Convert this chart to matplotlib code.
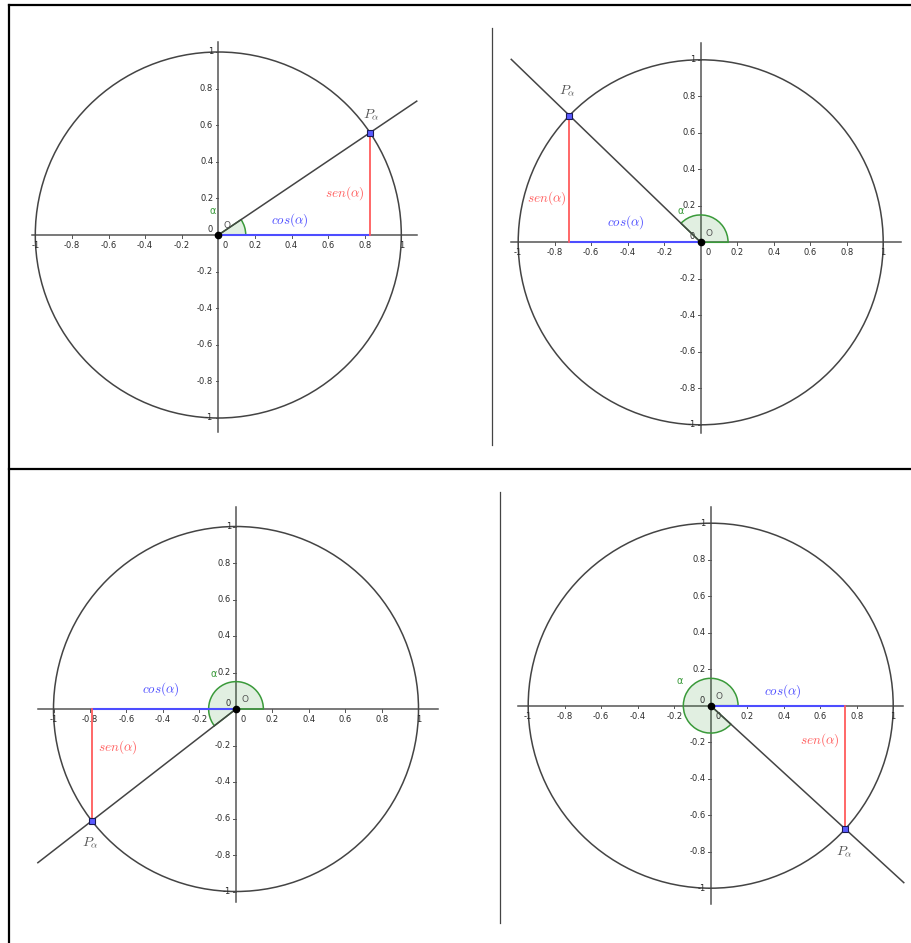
import numpy as np
import matplotlib
matplotlib.use("Agg")
import matplotlib.pyplot as plt
from matplotlib.patches import Wedge, Circle

plt.rcParams['mathtext.fontset'] = 'cm'

# angle alpha of each panel (degrees), top-left, top-right, bottom-left, bottom-right
alpha_deg = [34.0, 136.0, 217.8, 317.5]
tick_vals = [-1, -0.8, -0.6, -0.4, -0.2, 0.2, 0.4, 0.6, 0.8, 1]
tick_text = ["-1", "-0.8", "-0.6", "-0.4", "-0.2", "0.2", "0.4", "0.6", "0.8", "1"]

# layout (pixels): origin of each unit circle, radius, panel region
origins = [(218.3, 235.0), (700.7, 242.3), (236.0, 709.0), (710.7, 705.7)]
radius_px = [183.0, 182.5, 182.5, 182.5]
regions = [(12, 455, 8, 466), (460, 910, 8, 466), (12, 455, 472, 943), (505, 910, 472, 943)]
xaxis_ext = [(-1.018, 1.086), (-1.041, 1.10), (-1.085, 1.107), (-1.054, 1.055)]
yaxis_ext = [(-1.077, 1.055), (-1.045, 1.094), (-1.056, 1.108), (-1.088, 1.09)]
ray_len = [1.308, 1.443, 1.374, 1.435]
lbl_P = [(0.835, 0.66), (-0.73, 0.83), (-0.80, -0.73), (0.734, -0.80)]
lbl_sen = [(0.69, 0.23), (-0.845, 0.244), (-0.65, -0.21), (0.60, -0.19)]
lbl_cos = [(0.39, 0.08), (-0.41, 0.11), (-0.41, 0.11), (0.395, 0.08)]
lbl_alpha = [(-0.03, 0.13), (-0.11, 0.17), (-0.12, 0.19), (-0.17, 0.135)]

W, H = 912, 943
fig = plt.figure(figsize=(W / 100, H / 100), dpi=100)

# table borders and separators
bg = fig.add_axes([0, 0, 1, 1])
bg.set_xlim(0, W)
bg.set_ylim(H, 0)
bg.axis('off')
bg.plot([9, 9], [5, H], color='black', lw=1.6)
bg.plot([9, W], [5, 5], color='black', lw=1.6)
bg.plot([9, W], [469, 469], color='black', lw=1.6)
bg.plot([492, 492], [28, 445], color='#444444', lw=0.9)
bg.plot([500.5, 500.5], [492, 923], color='#444444', lw=0.9)

blue = '#4d4dff'
red = '#ff5c5c'
green = '#3a9a3a'
gray = '#444444'

for i in range(4):
    ox, oy = origins[i]
    r = radius_px[i]
    x0, x1, y0, y1 = regions[i]
    ax = fig.add_axes([x0 / W, 1 - y1 / H, (x1 - x0) / W, (y1 - y0) / H])
    ax.set_xlim((x0 - ox) / r, (x1 - ox) / r)
    ax.set_ylim((oy - y1) / r, (oy - y0) / r)
    ax.axis('off')

    a = np.deg2rad(alpha_deg[i])
    c, s = np.cos(a), np.sin(a)

    # axes
    ax.plot(xaxis_ext[i], [0, 0], color='#555555', lw=1.1, zorder=1)
    ax.plot([0, 0], yaxis_ext[i], color='#555555', lw=1.1, zorder=1)
    for v, t in zip(tick_vals, tick_text):
        ax.plot([v, v], [0, -0.015], color='#555555', lw=0.7)
        ax.text(v, -0.057, t, fontsize=6, color='#2a2a2a', ha='center', va='center')
        ax.plot([0, -0.015], [v, v], color='#555555', lw=0.7)
        ax.text(-0.028, v, t, fontsize=6, color='#2a2a2a', ha='right', va='center')
    ax.text(0.04, -0.057, "0", fontsize=6, color='#2a2a2a', ha='center', va='center')
    ax.text(-0.045, 0.03, "0", fontsize=6, color='#2a2a2a', ha='center', va='center')

    # unit circle
    ax.add_patch(Circle((0, 0), 1, fill=False, edgecolor=gray, lw=1.1, zorder=2))

    # angle wedge
    ax.add_patch(Wedge((0, 0), 0.15, 0, alpha_deg[i], facecolor=green, alpha=0.15,
                       edgecolor='none', zorder=2))
    ax.add_patch(Wedge((0, 0), 0.15, 0, alpha_deg[i], fill=False, edgecolor=green,
                       lw=1.1, zorder=3))

    # terminal ray
    L = ray_len[i]
    ax.plot([0, L * c], [0, L * s], color=gray, lw=1.1, zorder=3)

    # cos and sin segments
    ax.plot([0, c], [0, 0], color=blue, lw=1.5, zorder=4)
    ax.plot([c, c], [0, s], color=red, lw=1.3, zorder=4)

    # points
    ax.plot([c], [s], marker='s', ms=4, mfc='#5a5aff', mec='#1a1a55', mew=0.8, zorder=6)
    ax.plot([0], [0], marker='o', ms=4.5, color='black', zorder=6)

    # labels
    ax.text(*lbl_P[i], r'$P_\alpha$', fontsize=10, color='#555555', ha='center', va='center')
    ax.text(*lbl_sen[i], r'$sen(\alpha)$', fontsize=9.5, color=red, ha='center', va='center')
    ax.text(*lbl_cos[i], r'$cos(\alpha)$', fontsize=9.5, color=blue, ha='center', va='center')
    ax.text(*lbl_alpha[i], 'α', fontsize=7, color=green, ha='center', va='center')
    ax.text(0.047, 0.05, 'O', fontsize=6.5, color='#555555', ha='center', va='center')

fig.savefig('out.png', dpi=100)
